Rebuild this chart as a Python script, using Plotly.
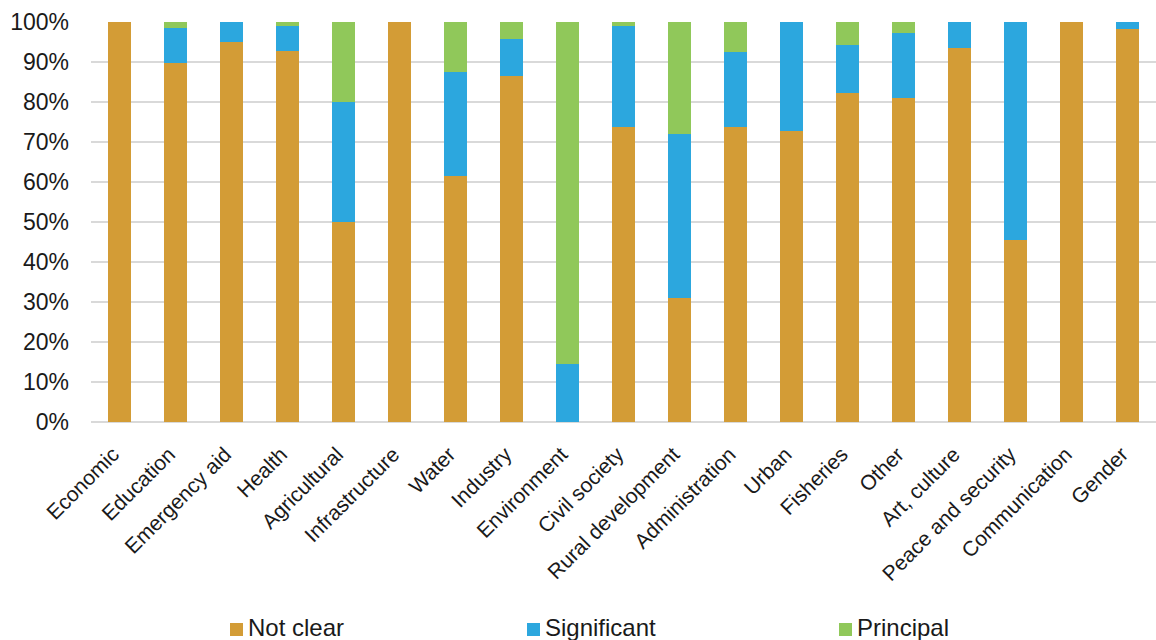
import plotly.graph_objects as go

categories = [
    "Economic", "Education", "Emergency aid", "Health", "Agricultural",
    "Infrastructure", "Water", "Industry", "Environment", "Civil society",
    "Rural development", "Administration", "Urban", "Fisheries", "Other",
    "Art, culture", "Peace and security", "Communication", "Gender",
]

not_clear = [100.0, 89.8, 95.0, 92.7, 50.0, 100.0, 61.5, 86.6, 0.0, 73.7,
             30.9, 73.7, 72.7, 82.3, 80.9, 93.6, 45.5, 100.0, 98.3]
significant = [0.0, 8.6, 5.0, 6.3, 30.0, 0.0, 26.1, 9.1, 14.6, 25.2,
               41.2, 18.7, 27.3, 11.9, 16.3, 6.4, 54.5, 0.0, 1.7]
principal = [0.0, 1.6, 0.0, 1.0, 20.0, 0.0, 12.4, 4.3, 85.4, 1.1,
             27.9, 7.6, 0.0, 5.8, 2.8, 0.0, 0.0, 0.0, 0.0]

y_ticks = list(range(0, 101, 10))
y_tick_labels = [f"{v}%" for v in y_ticks]

series = [
    ("Not clear", not_clear, "#D39C36"),
    ("Significant", significant, "#2CA7DE"),
    ("Principal", principal, "#90C85A"),
]

FONT = "Liberation Sans, Arial, sans-serif"
W, H = 1156, 640
L, R, T, B = 91, 0, 22, 218
PW, PH = W - L - R, H - T - B


def px_to_paper_x(px):
    return (px - L) / PW


def px_to_paper_y(py):
    return (H - B - py) / PH


fig = go.Figure()
for name, vals, color in series:
    fig.add_trace(go.Bar(
        name=name, x=categories, y=vals,
        marker=dict(color=color, line=dict(width=0)),
        showlegend=False,
    ))

# legend row along the bottom edge: a colour key square followed by the name
key_left_px = [230, 527, 839]
key_size = 13
key_top_px = 623
label_mid_px = 627
shapes, annotations = [], []
for (name, _, color), kx in zip(series, key_left_px):
    shapes.append(dict(
        type="rect", xref="paper", yref="paper",
        x0=px_to_paper_x(kx), x1=px_to_paper_x(kx + key_size),
        y0=px_to_paper_y(key_top_px + key_size), y1=px_to_paper_y(key_top_px),
        fillcolor=color, line=dict(width=0),
    ))
    annotations.append(dict(
        text=name, xref="paper", yref="paper",
        x=px_to_paper_x(kx + key_size + 4), y=px_to_paper_y(label_mid_px),
        xanchor="left", yanchor="middle", showarrow=False,
        font=dict(size=24, family=FONT, color="#1a1a1a"),
        borderpad=0,
    ))

fig.update_layout(
    barmode="stack",
    bargap=0.59,
    width=W, height=H,
    margin=dict(l=L, r=R, t=T, b=B),
    paper_bgcolor="white",
    plot_bgcolor="white",
    font=dict(family=FONT, size=23, color="#1a1a1a"),
    showlegend=False,
    shapes=shapes,
    annotations=annotations,
)

fig.update_xaxes(
    tickangle=-45,
    tickfont=dict(size=21),
    showgrid=False,
    showline=False,
    ticks="",
    automargin=False,
    ticklabelstandoff=15,
    ticklabelshift=-6,
)
fig.update_yaxes(
    range=[0, 100],
    tickmode="array",
    tickvals=y_ticks,
    ticktext=y_tick_labels,
    tickfont=dict(size=23),
    showgrid=True,
    gridcolor="#D9D9D9",
    gridwidth=1.5,
    zeroline=True,
    zerolinecolor="#D9D9D9",
    zerolinewidth=2,
    showline=False,
    ticks="",
    automargin=False,
    ticklabelstandoff=21,
)

fig.write_html("out.html")
